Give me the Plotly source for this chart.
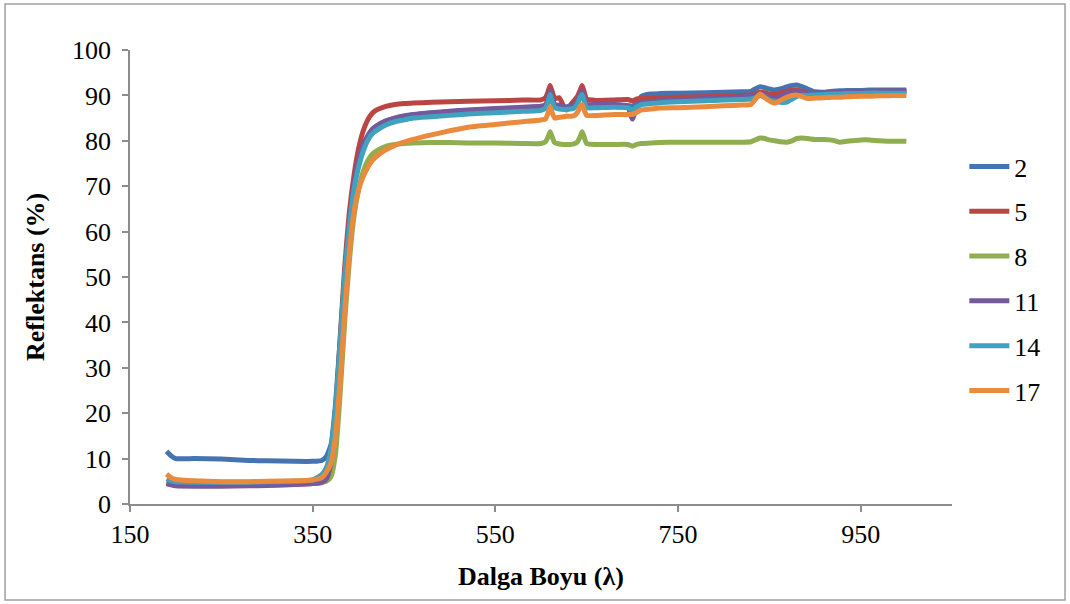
import plotly.graph_objects as go

wavelength = [190, 195, 200, 220, 250, 280, 300, 330, 350, 360,
              365, 370, 375, 380, 385, 390, 395, 400, 405, 410,
              415, 420, 430, 440, 450, 460, 480, 500, 520, 550,
              580, 600, 605, 608, 610, 612, 615, 620, 625, 628,
              632, 636, 640, 643, 645, 647, 650, 660, 680, 695,
              700, 705, 710, 720, 730, 750, 780, 800, 820, 830,
              836, 840, 845, 850, 856, 862, 869, 875, 880, 885,
              892, 900, 910, 920, 927, 935, 950, 960, 970, 980,
              990, 1000]

s2 = [11.6, 10.6, 10.0, 10.0, 9.9, 9.6, 9.5, 9.4, 9.4, 9.6,
      10.5, 13, 22, 36, 50, 62, 70, 75, 78.5, 80.7,
      82.2, 83.2, 84.3, 85, 85.4, 85.7, 86.1, 86.4, 86.7, 87,
      87.3, 87.5, 87.7, 89, 90.5, 89, 87.8, 87.6, 87.5, 87.4,
      87.6, 87.7, 88.6, 90, 90.5, 89.5, 87.8, 87.8, 87.9, 87.8,
      87.6, 88.5, 89.8, 90.3, 90.4, 90.5, 90.6, 90.7, 90.8, 90.9,
      91.6, 91.9, 91.7, 91.4, 91.2, 91.4, 91.9, 92.2, 92.3, 92.0,
      91.4, 90.8, 90.7, 90.9, 91.0, 91.1, 91.1, 91.2, 91.2, 91.2,
      91.2, 91.2]

s5 = [4.8, 4.5, 4.3, 4.2, 4.1, 4.1, 4.2, 4.3, 4.5, 4.7,
      5.5, 9, 20, 36, 52, 64, 72, 78, 82, 84.5,
      86, 86.8, 87.6, 88, 88.2, 88.3, 88.5, 88.6, 88.7, 88.8,
      89, 89, 89.5, 91, 92.2, 91, 89.3, 89.5, 87.5, 86.8,
      87.8, 88.8, 89.8, 91.2, 92.2, 91, 89.2, 88.9, 89, 89.1,
      88.8, 89.2, 89.3, 89.4, 89.5, 89.6, 89.7, 89.8, 90, 90.1,
      90.5, 90.7, 90.6, 90.3, 90.2, 90.5, 90.9, 91.2, 91.2, 90.9,
      90.5, 90.4, 90.5, 90.6, 90.6, 90.7, 90.8, 90.8, 90.9, 90.9,
      90.9, 90.9]

s8 = [4.6, 4.4, 4.3, 4.2, 4.2, 4.2, 4.3, 4.4, 4.6, 4.8,
      5.0, 6.0, 11, 24, 40, 53, 63, 69, 73, 75.5,
      77, 77.8, 78.8, 79.2, 79.4, 79.5, 79.6, 79.6, 79.5, 79.5,
      79.4, 79.4, 79.8, 81, 82, 81, 79.6, 79.3, 79.2, 79.2,
      79.2, 79.3, 79.8, 81, 82, 81, 79.4, 79.2, 79.2, 79.2,
      78.8, 79.2, 79.4, 79.5, 79.6, 79.7, 79.7, 79.7, 79.7, 79.8,
      80.3, 80.6, 80.5, 80.2, 80.0, 79.8, 79.7, 80.0, 80.5, 80.6,
      80.5, 80.3, 80.3, 80.1, 79.7, 79.9, 80.2, 80.2, 80.0, 79.9,
      79.9, 79.9]

s11 = [4.5, 4.2, 4.0, 3.9, 3.9, 4.0, 4.1, 4.3, 4.5, 4.8,
       5.5, 9, 18, 33, 49, 61, 70, 75.5, 79, 81,
       82.5, 83.3, 84.4, 85, 85.5, 85.8, 86.2, 86.5, 86.8, 87.1,
       87.4, 87.6, 88, 89.5, 91, 89.5, 88, 87.8, 87.6, 87.4,
       87.7, 87.9, 88.8, 90.3, 91, 89.8, 88, 88, 88, 87.5,
       84.8, 87.5, 88.3, 88.6, 88.8, 89, 89.3, 89.5, 89.7, 89.8,
       90.3, 90.5, 90.2, 89.6, 89.3, 89.8, 90.4, 90.7, 90.8, 90.6,
       90.4, 90.5, 90.6, 90.7, 90.7, 90.8, 90.8, 90.9, 90.9, 90.9,
       90.9, 90.9]

s14 = [5.5, 5.1, 4.9, 4.8, 4.8, 4.8, 4.9, 5.0, 5.3, 6.5,
       8, 12, 21, 35, 50, 61, 69, 74, 77.5, 80,
       81.5, 82.3, 83.5, 84.2, 84.6, 85, 85.3, 85.6, 85.9, 86.2,
       86.5, 86.7, 87.2, 88.8, 90.2, 88.8, 87.3, 87, 86.9, 86.9,
       87, 87.2, 88.2, 89.6, 90.2, 89, 87.3, 87.3, 87.4, 87.3,
       86.8, 87.5, 88, 88.2, 88.4, 88.6, 88.8, 89, 89.1, 89.2,
       89.6, 90, 89.6, 89, 88.7, 88.5, 88.5, 89.2, 89.8, 90,
       90, 90.1, 90.2, 90.3, 90.3, 90.4, 90.4, 90.5, 90.5, 90.5,
       90.5, 90.5]

s17 = [6.6, 5.8, 5.4, 5.1, 4.9, 4.9, 5.0, 5.1, 5.3, 5.8,
       7, 9, 15, 27, 42, 55, 64, 69, 72, 74,
       75.6, 76.6, 78, 79, 79.7, 80.3, 81.3, 82.2, 83, 83.6,
       84.2, 84.6, 84.8, 86.3, 87.5, 86.3, 85, 85.2, 85.3, 85.4,
       85.4, 85.5, 86.3, 87.6, 88, 87, 85.6, 85.6, 85.8, 85.8,
       85.8, 86.3, 86.8, 87, 87.2, 87.3, 87.5, 87.7, 87.9, 88,
       89.5, 90.3, 89.5, 88.8, 88.3, 88.9, 89.6, 90, 90.1, 89.8,
       89.3, 89.4, 89.5, 89.6, 89.6, 89.7, 89.8, 89.8, 89.9, 89.9,
       90, 90]

series_names = ["2", "5", "8", "11", "14", "17"]
series_values = [s2, s5, s8, s11, s14, s17]
colors = ["#4674B0", "#B94643", "#8FAE4F", "#76589C", "#3FA2BE", "#EA8A3C"]

x_ticks = [150, 350, 550, 750, 950]
y_ticks = [0, 10, 20, 30, 40, 50, 60, 70, 80, 90, 100]

FONT = "Liberation Serif, Times New Roman, serif"
FS = 26

fig = go.Figure()
for name, vals, col in zip(series_names, series_values, colors):
    fig.add_trace(go.Scatter(
        x=wavelength, y=vals, name=name, mode="lines",
        legendgroup=name,
        line=dict(color=col, width=5, shape="spline", smoothing=0.5),
    ))

axis_common = dict(
    showgrid=False, zeroline=False, showline=True,
    linecolor="#8C8C8C", linewidth=1.5,
    ticks="outside", tickcolor="#8C8C8C", ticklen=6, tickwidth=1.5,
    tickfont=dict(family=FONT, size=FS, color="black"),
)

fig.update_xaxes(range=[150, 1050], tickvals=x_ticks, **axis_common)
fig.update_yaxes(range=[0, 100], tickvals=y_ticks, ticklabelstandoff=6, **axis_common)

fig.update_layout(
    width=1070, height=604,
    margin=dict(l=130, r=118, t=50, b=100),
    paper_bgcolor="white", plot_bgcolor="white",
    font=dict(family=FONT, color="black"),
    showlegend=True,
    legend=dict(
        x=1.015, y=0.795, xanchor="left", yanchor="top",
        font=dict(family=FONT, size=FS, color="black"),
        tracegroupgap=8, itemwidth=40,
        bgcolor="rgba(0,0,0,0)",
    ),
    annotations=[
        dict(text="<b>Dalga Boyu (λ)</b>", x=0.5, y=-0.1586, xref="paper", yref="paper",
             xanchor="center", yanchor="middle", showarrow=False,
             font=dict(family=FONT, size=FS, color="black")),
        dict(text="<b>Reflektans (%)</b>", x=-0.1156, y=0.5, xref="paper", yref="paper",
             xanchor="center", yanchor="middle", showarrow=False, textangle=-90,
             font=dict(family=FONT, size=FS, color="black")),
    ],
    shapes=[
        dict(type="rect", xref="paper", yref="paper",
             x0=-0.152, x1=1.1375, y0=-0.2115, y1=1.1013,
             line=dict(color="#A0A0A0", width=1.5), fillcolor="rgba(0,0,0,0)"),
    ],
)

fig.write_html("out.html")
